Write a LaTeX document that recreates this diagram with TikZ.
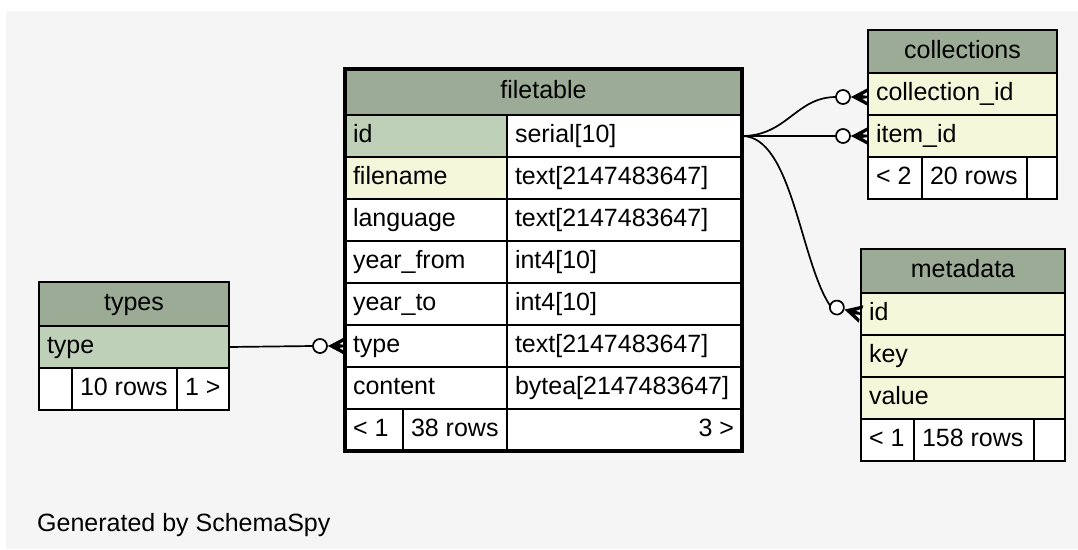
\documentclass[tikz,border=0pt]{standalone}
\usepackage{fontspec}
\setmainfont{Liberation Sans}
\usetikzlibrary{calc}

\definecolor{bgc}{RGB}{245,245,245}
\definecolor{hdr}{RGB}{155,171,150}
\definecolor{pkc}{RGB}{190,209,184}
\definecolor{idx}{RGB}{244,247,218}

\newcommand\tablefont{\fontsize{25}{30}\selectfont}

% one table cell: name, x, y (top left), width, height, fill, alignment, text
\newcommand\dbcell[8]{%
  \node[dbcell, fill=#6, minimum width=#4pt, minimum height=#5pt] (#1) at (#2,#3)
    {\makebox[\dimexpr#4pt-16pt\relax][#7]{#8}};}

\tikzset{
  dbcell/.style={draw=black, line width=1.6pt, anchor=north west, outer sep=0pt,
    inner xsep=8pt, inner ysep=0pt, text height=18pt, text depth=5pt, font=\tablefont},
  tableframe/.style={draw=black, line width=2pt},
  mainframe/.style={draw=black, line width=4.5pt},
  conn/.style={draw=black, line width=1.7pt},
  crowodot/.pic={
    \draw[line width=1.7pt, fill=white] (-25,0) circle (7pt);
    \fill (-17,0) -- (0,-9) -- (0,-5.5) -- (-9,0) -- (0,5.5) -- (0,9) -- cycle;
    \fill (-17,0) -- (-8,-2.2) -- (0,-1) -- (0,1) -- (-8,2.2) -- cycle;
  }
}

\begin{document}
\begin{tikzpicture}[x=1pt, y=-1pt]
\useasboundingbox (0,0) rectangle (1078,549);
\fill[bgc] (6,11) rectangle (1078,549);

% filetable
\dbcell{ft-h}{345}{69}{397}{46}{hdr}{c}{filetable}
\dbcell{ft-id-n}{345}{115}{162}{42}{pkc}{l}{id}
\dbcell{ft-id-t}{507}{115}{235}{42}{white}{l}{serial[10]}
\dbcell{ft-fn-n}{345}{157}{162}{42}{idx}{l}{filename}
\dbcell{ft-fn-t}{507}{157}{235}{42}{white}{l}{text[2147483647]}
\dbcell{ft-la-n}{345}{199}{162}{42}{white}{l}{language}
\dbcell{ft-la-t}{507}{199}{235}{42}{white}{l}{text[2147483647]}
\dbcell{ft-yf-n}{345}{241}{162}{42}{white}{l}{year\_from}
\dbcell{ft-yf-t}{507}{241}{235}{42}{white}{l}{int4[10]}
\dbcell{ft-yt-n}{345}{283}{162}{42}{white}{l}{year\_to}
\dbcell{ft-yt-t}{507}{283}{235}{42}{white}{l}{int4[10]}
\dbcell{ft-type-n}{345}{325}{162}{42}{white}{l}{type}
\dbcell{ft-type-t}{507}{325}{235}{42}{white}{l}{text[2147483647]}
\dbcell{ft-co-n}{345}{367}{162}{42}{white}{l}{content}
\dbcell{ft-co-t}{507}{367}{235}{42}{white}{l}{bytea[2147483647]}
\dbcell{ft-f1}{345}{409}{58}{42}{white}{l}{< 1}
\dbcell{ft-f2}{403}{409}{104}{42}{white}{l}{38 rows}
\dbcell{ft-f3}{507}{409}{235}{42}{white}{r}{3 >}

% collections
\dbcell{cl-h}{868}{30}{189}{43}{hdr}{c}{collections}
\dbcell{cl-cid}{868}{73}{189}{42}{idx}{l}{collection\_id}
\dbcell{cl-iid}{868}{115}{189}{42}{idx}{l}{item\_id}
\dbcell{cl-f1}{868}{157}{54}{42}{white}{l}{< 2}
\dbcell{cl-f2}{922}{157}{105}{42}{white}{l}{20 rows}
\dbcell{cl-f3}{1027}{157}{30}{42}{white}{l}{}
\draw[tableframe] (cl-h.north west) rectangle (cl-f3.south east);

% metadata
\dbcell{md-h}{861}{249}{204}{44}{hdr}{c}{metadata}
\dbcell{md-id}{861}{293}{204}{42}{idx}{l}{id}
\dbcell{md-key}{861}{335}{204}{42}{idx}{l}{key}
\dbcell{md-val}{861}{377}{204}{42}{idx}{l}{value}
\dbcell{md-f1}{861}{419}{53}{42}{white}{l}{< 1}
\dbcell{md-f2}{914}{419}{120}{42}{white}{l}{158 rows}
\dbcell{md-f3}{1034}{419}{31}{42}{white}{l}{}
\draw[tableframe] (md-h.north west) rectangle (md-f3.south east);

% types
\dbcell{ty-h}{39}{282}{190}{44}{hdr}{c}{types}
\dbcell{ty-type}{39}{326}{190}{42}{pkc}{l}{type}
\dbcell{ty-f1}{39}{368}{33}{42}{white}{l}{}
\dbcell{ty-f2}{72}{368}{105}{42}{white}{l}{10 rows}
\dbcell{ty-f3}{177}{368}{52}{42}{white}{l}{1 >}
\draw[tableframe] (ty-h.north west) rectangle (ty-f3.south east);

% relationship ends
\path (ft-type-n.west) ++(-32,0) coordinate (ea);
\path ([yshift=-3pt]cl-cid.west) ++(-32,0) coordinate (eb);
\path (cl-iid.west) ++(-32,0) coordinate (ec);
\path (md-id.west) ++(165:32pt) coordinate (ed);

% relationships
\draw[conn] (ty-type.east) -- (ea);
\draw[conn] (ft-id-t.east) .. controls +(45,0) and +(-40,0) .. (eb);
\draw[conn] (ft-id-t.east) -- (ec);
\draw[conn] (ft-id-t.east) .. controls +(50,0) and +(-30,-45) .. (ed);
\pic at (ft-type-n.west) {crowodot};
\pic at ([yshift=-3pt]cl-cid.west) {crowodot};
\pic at (cl-iid.west) {crowodot};
\pic[rotate=-15] at (md-id.west) {crowodot};

% heavy frame of the selected table
\draw[mainframe] (ft-h.north west) rectangle (ft-f3.south east);

\node[anchor=base west, font=\tablefont, inner sep=0pt] (gen) at (37,531) {Generated by SchemaSpy};
\end{tikzpicture}
\end{document}
